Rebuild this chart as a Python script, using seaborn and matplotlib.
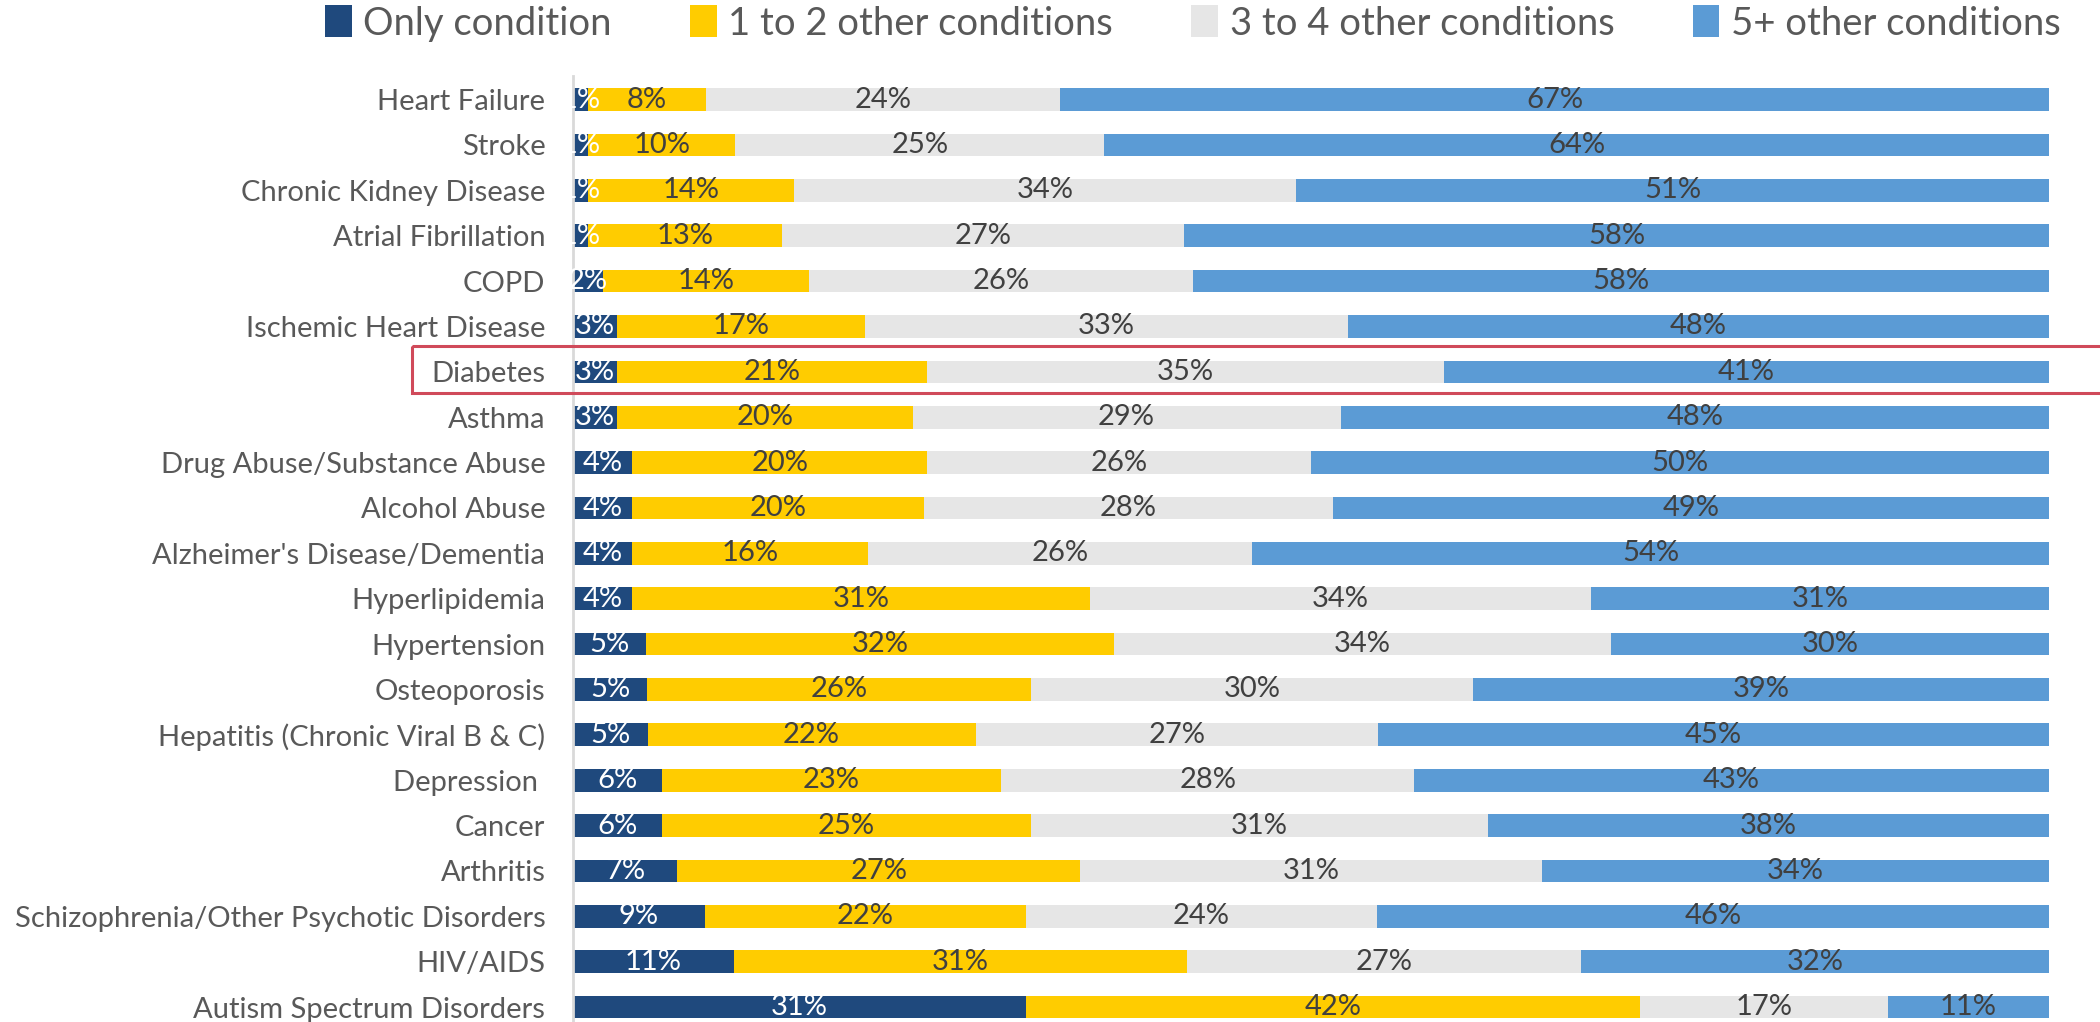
import numpy as np
import pandas as pd
import matplotlib
matplotlib.use("Agg")
import matplotlib.pyplot as plt
import matplotlib.transforms as mtransforms
from matplotlib.patches import Rectangle, Patch
import seaborn as sns

# Conditions (top to bottom) and share of patients by number of other chronic conditions
conditions = [
    "Heart Failure", "Stroke", "Chronic Kidney Disease", "Atrial Fibrillation", "COPD",
    "Ischemic Heart Disease", "Diabetes", "Asthma", "Drug Abuse/Substance Abuse",
    "Alcohol Abuse", "Alzheimer's Disease/Dementia", "Hyperlipidemia", "Hypertension",
    "Osteoporosis", "Hepatitis (Chronic Viral B & C)", "Depression ", "Cancer", "Arthritis",
    "Schizophrenia/Other Psychotic Disorders", "HIV/AIDS", "Autism Spectrum Disorders",
]
only_condition = [1, 1, 1, 1, 2, 3, 3, 3, 4, 4, 4, 4, 5, 5, 5, 6, 6, 7, 9, 11, 31]
one_to_two = [8, 10, 14, 13, 14, 17, 21, 20, 20, 20, 16, 31, 32, 26, 22, 23, 25, 27, 22, 31, 42]
three_to_four = [24, 25, 34, 27, 26, 33, 35, 29, 26, 28, 26, 34, 34, 30, 27, 28, 31, 31, 24, 27, 17]
five_plus = [67, 64, 51, 58, 58, 48, 41, 48, 50, 49, 54, 31, 30, 39, 45, 43, 38, 34, 46, 32, 11]

series_names = ["Only condition", "1 to 2 other conditions", "3 to 4 other conditions", "5+ other conditions"]
colors = ["#1f497d", "#ffcc00", "#e6e6e6", "#5b9bd5"]
label_colors = ["white", "#404040", "#404040", "#404040"]

df = pd.DataFrame({"Condition": conditions,
                   series_names[0]: only_condition,
                   series_names[1]: one_to_two,
                   series_names[2]: three_to_four,
                   series_names[3]: five_plus})

# 100% stacked: scale each row so it sums to 100
vals = df[series_names].to_numpy(dtype=float)
shares = vals / vals.sum(axis=1, keepdims=True) * 100
cum = np.cumsum(shares, axis=1)

sns.set_style("white")
plt.rcParams["font.family"] = ["Lato", "DejaVu Sans"]

fig = plt.figure(figsize=(21, 10.22), dpi=100)
ax = fig.add_axes([0.2729, 0.0, 0.7028, 0.9256])

# draw from the full bar down so each segment shows on top of the next
for i in range(len(series_names) - 1, -1, -1):
    sns.barplot(x=cum[:, i], y=df["Condition"], order=conditions, orient="h",
                color=colors[i], width=0.5, saturation=1, edgecolor="none", ax=ax)

# segment labels
for r in range(len(conditions)):
    for i in range(len(series_names)):
        left = cum[r, i] - shares[r, i]
        ax.text(left + shares[r, i] / 2, r, f"{int(vals[r, i])}%", ha="center", va="center",
                fontsize=21, color=label_colors[i], zorder=5)

ax.set_xlim(0, 100)
ax.set_ylim(20.33, -0.52)
ax.set_xlabel("")
ax.set_ylabel("")
ax.set_xticks([])
ax.tick_params(axis="y", length=0, labelsize=21, labelcolor="#595959", pad=20)
for s in ["top", "right", "bottom"]:
    ax.spines[s].set_visible(False)
ax.spines["left"].set_color("#d9d9d9")
ax.spines["left"].set_linewidth(2)

# highlight box around Diabetes
trans = mtransforms.blended_transform_factory(fig.transFigure, ax.transData)
d = conditions.index("Diabetes")
fig.patches.append(Rectangle((0.196, d - 0.57), 0.83, 1.03, transform=trans, fill=False,
                             edgecolor="#d04a5a", linewidth=2.2, clip_on=False))

handles = [Patch(facecolor=c, edgecolor="none") for c in colors]
fig.legend(handles, series_names, loc="center", bbox_to_anchor=(0.568, 0.977), ncol=4,
           frameon=False, fontsize=27.5, labelcolor="#595959", handlelength=0.7,
           handleheight=0.9, handletextpad=0.3, columnspacing=2.05)

fig.savefig("out.png", dpi=100)
